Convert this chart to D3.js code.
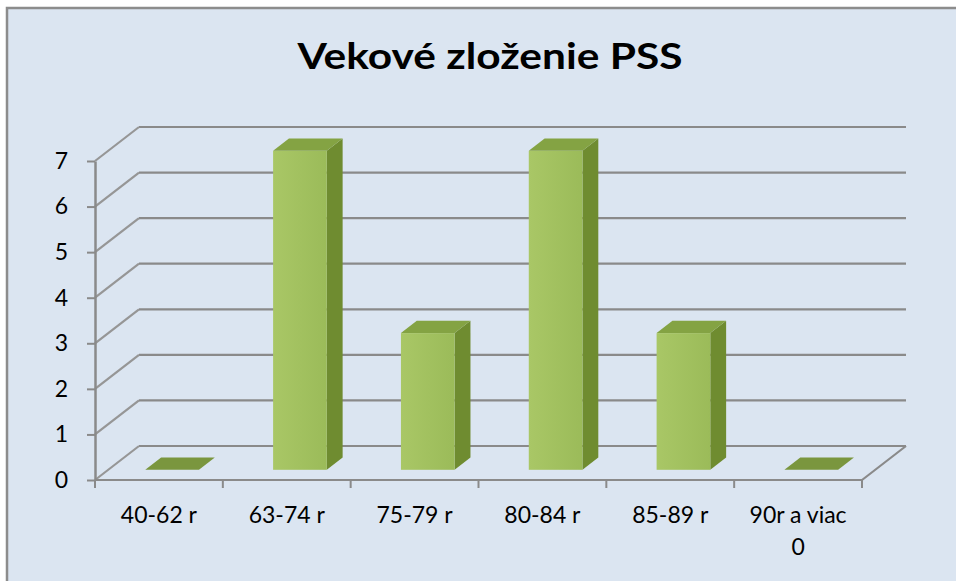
<!DOCTYPE html>
<html>
<head>
<meta charset="utf-8">
<script src="https://cdn.jsdelivr.net/npm/d3@7"></script>
<style>
  html, body { margin: 0; background: #dbe5f1; overflow: hidden; }
  svg { display: block; }
  text { font-family: Lato, "Open Sans", sans-serif; fill: #000; }
</style>
</head>
<body>
<svg id="chart" width="956" height="581"></svg>
<script>
// Chart data
const title = 'Vekové zloženie PSS';
const categories = ['40-62 r', '63-74 r', '75-79 r', '80-84 r', '85-89 r', '90r a viac\n0'];
const values = [0, 7, 3, 7, 3, 0];
const yTicks = [0, 1, 2, 3, 4, 5, 6, 7];

const width = 956, height = 581;
const depth = {dx: 44, dy: 34};          // full depth offset of the back wall
const barDepth = [0.3, 0.66];            // bar front / back position in depth

const svg = d3.select('#chart');

svg.append('rect')
   .attr('width', width).attr('height', height)
   .attr('fill', '#fff');

// Chart area background and border (right/bottom edges run off the picture)
svg.append('rect')
   .attr('x', 7).attr('y', 8)
   .attr('width', width + 60).attr('height', height + 60)
   .attr('fill', '#dbe5f1')
   .attr('stroke', '#8c8c8c')
   .attr('stroke-width', 2.5);

svg.append('text')
   .attr('x', 490).attr('y', 69)
   .attr('text-anchor', 'middle')
   .attr('font-size', 37)
   .attr('font-weight', 'bold')
   .attr('textLength', 385)
   .attr('lengthAdjust', 'spacingAndGlyphs')
   .text(title);

const xScale = d3.scaleBand()
                 .domain(categories)
                 .range([95, 862]);
const yScale = d3.scaleLinear()
                 .domain([0, 7])
                 .range([480, 161]);

const proj = (x, y, z) => [x + depth.dx * z, y - depth.dy * z];
const pts = arr => arr.map(p => p.join(',')).join(' ');

const [x0, x1] = xScale.range();
const grid = svg.append('g')
                .attr('stroke', '#8a8a8a')
                .attr('stroke-width', 2.2)
                .attr('fill', 'none');

// Back wall grid lines
grid.selectAll('.back')
    .data(yTicks)
    .join('line')
    .attr('x1', d => proj(x0, yScale(d), 1)[0])
    .attr('y1', d => proj(x0, yScale(d), 1)[1])
    .attr('x2', d => proj(x1, yScale(d), 1)[0])
    .attr('y2', d => proj(x1, yScale(d), 1)[1]);

// Left wall grid lines
grid.selectAll('.side')
    .data(yTicks)
    .join('line')
    .attr('stroke', '#969696')
    .attr('x1', x0)
    .attr('y1', d => yScale(d))
    .attr('x2', d => proj(x0, yScale(d), 1)[0])
    .attr('y2', d => proj(x0, yScale(d), 1)[1]);

// Floor edges
grid.append('polyline')
    .attr('points', pts([[x0, yScale(0)], [x1, yScale(0)], proj(x1, yScale(0), 1)]));

// Bars
const defs = svg.append('defs');
const grad = defs.append('linearGradient').attr('id', 'front');
grad.append('stop').attr('offset', '0%').attr('stop-color', '#a9c766');
grad.append('stop').attr('offset', '100%').attr('stop-color', '#9bbb59');

const barW = xScale.bandwidth() * 0.42;
const bars = svg.append('g').attr('class', 'bars');

categories.forEach((c, i) => {
  const v = values[i];
  const left = xScale(c) + (xScale.bandwidth() - barW) / 2;
  const right = left + barW;
  const yt = yScale(v), yb = yScale(0);
  const [za, zb] = barDepth;
  const g = bars.append('g');

  if (v > 0) {
    // side face
    g.append('polygon')
     .attr('fill', '#6f8c30')
     .attr('points', pts([proj(right, yt, za), proj(right, yt, zb),
                          proj(right, yb, zb), proj(right, yb, za)]));
    // front face
    const f0 = proj(left, yt, za), f1 = proj(right, yb, za);
    g.append('rect')
     .attr('x', f0[0]).attr('y', f0[1])
     .attr('width', f1[0] - f0[0]).attr('height', f1[1] - f0[1])
     .attr('fill', 'url(#front)');
  }
  // top face
  g.append('polygon')
   .attr('fill', v > 0 ? '#84a343' : '#7a963e')
   .attr('points', pts([proj(left, yt, za), proj(right, yt, za),
                        proj(right, yt, zb), proj(left, yt, zb)]));
});

// Y axis
const yAxis = d3.axisLeft(yScale)
                .tickValues(yTicks)
                .tickFormat(d3.format('d'))
                .tickSize(8)
                .tickSizeOuter(0)
                .tickPadding(19);
const yg = svg.append('g')
              .attr('transform', `translate(${x0},0)`)
              .call(yAxis);
yg.select('.domain').attr('stroke', '#8a8a8a').attr('stroke-width', 2.5);
yg.selectAll('.tick line').attr('stroke', '#8a8a8a').attr('stroke-width', 2);
yg.selectAll('.tick text')
  .attr('font-size', 23)
  .attr('font-family', 'Lato, sans-serif')
  .attr('fill', '#000');

// X axis ticks at band edges
const edges = categories.map(c => xScale(c)).concat([x1]);
svg.append('g')
   .selectAll('line')
   .data(edges)
   .join('line')
   .attr('x1', d => d).attr('x2', d => d)
   .attr('y1', yScale(0)).attr('y2', yScale(0) + 8)
   .attr('stroke', '#8a8a8a')
   .attr('stroke-width', 2);

// X labels
svg.append('g')
   .selectAll('text')
   .data(categories)
   .join('text')
   .attr('text-anchor', 'middle')
   .attr('font-size', 23)
   .attr('y', 523)
   .each(function(d) {
     const t = d3.select(this);
     const cx = xScale(d) + xScale.bandwidth() / 2;
     d.split('\n').forEach((line, k) => {
       t.append('tspan')
        .attr('x', cx)
        .attr('dy', k === 0 ? 0 : 32)
        .text(line);
     });
   });
</script>
</body>
</html>
